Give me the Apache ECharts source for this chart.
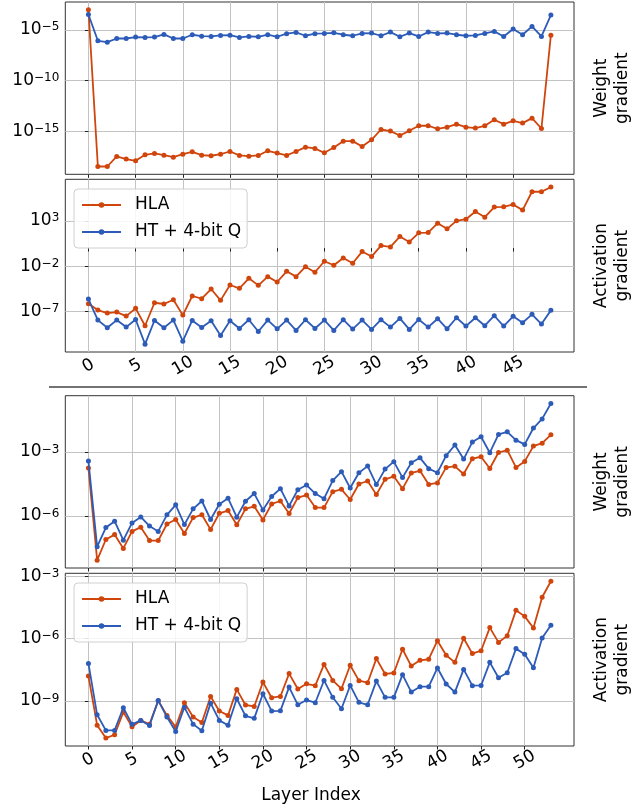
<!DOCTYPE html>
<html><head><meta charset="utf-8">
<script src="https://cdn.jsdelivr.net/npm/echarts@6/dist/echarts.min.js"></script>
<style>html,body{margin:0;padding:0;background:#fff}#c{width:644px;height:807px}</style>
</head><body><div id="c"></div>
<script>
// All gradient values are stored as log10 exponents (value = 10^exponent)
const layersTop = Array.from({length: 50}, (_, i) => i);
const layersBottom = Array.from({length: 54}, (_, i) => i);

// Top block: weight gradient
const weightTopHLA = [-3.03,-18.49,-18.49,-17.5,-17.76,-17.93,-17.34,-17.2,-17.37,-17.57,-17.27,-17.04,-17.37,-17.43,-17.27,-17.01,-17.40,-17.47,-17.40,-16.94,-17.17,-17.40,-17.01,-16.58,-16.71,-17.14,-16.61,-15.99,-15.99,-16.51,-15.86,-14.84,-15.0,-15.43,-14.97,-14.47,-14.47,-14.77,-14.61,-14.31,-14.61,-14.70,-14.47,-13.88,-14.31,-13.98,-14.21,-13.72,-14.74,-5.53];
const weightTopHT = [-3.49,-6.09,-6.22,-5.86,-5.86,-5.72,-5.76,-5.72,-5.46,-5.86,-5.86,-5.49,-5.63,-5.66,-5.56,-5.53,-5.76,-5.66,-5.69,-5.49,-5.69,-5.39,-5.26,-5.59,-5.39,-5.36,-5.30,-5.49,-5.59,-5.36,-5.33,-5.59,-5.23,-5.69,-5.33,-5.66,-5.23,-5.36,-5.33,-5.49,-5.59,-5.56,-5.36,-5.16,-5.66,-4.93,-5.49,-4.67,-5.66,-3.55];
// Top block: activation gradient
const actTopHLA = [-6.12,-6.82,-7.15,-7.04,-7.48,-6.63,-8.54,-6.01,-6.15,-5.68,-7.37,-5.27,-5.57,-4.50,-5.75,-4.06,-4.43,-3.32,-4.10,-3.14,-3.73,-2.55,-3.14,-2.04,-2.66,-1.45,-1.89,-1.08,-1.67,-0.38,-0.93,0.28,0.13,1.27,0.68,1.68,1.71,2.74,2.12,3.0,3.18,4.03,3.40,4.51,4.54,4.80,4.18,6.20,6.20,6.71];
const actTopHT = [-5.60,-7.92,-8.76,-7.92,-8.69,-7.85,-10.57,-7.96,-8.76,-7.92,-10.24,-7.96,-8.74,-7.99,-9.61,-7.99,-8.84,-7.88,-9.17,-7.92,-8.88,-7.92,-9.06,-7.88,-8.84,-7.92,-9.06,-7.88,-8.91,-7.92,-8.95,-7.88,-8.69,-7.74,-8.95,-7.85,-8.69,-7.77,-8.88,-7.66,-8.58,-7.66,-8.54,-7.44,-8.58,-7.51,-8.21,-7.29,-8.36,-6.85];
// Bottom block: weight gradient
const weightBotHLA = [-3.75,-8.08,-7.11,-6.88,-7.53,-6.73,-6.53,-7.16,-7.16,-6.38,-6.17,-6.83,-6.08,-5.95,-6.64,-5.88,-5.75,-6.42,-5.67,-5.55,-6.19,-5.44,-5.30,-5.89,-5.14,-5.02,-5.61,-5.61,-4.86,-4.75,-5.23,-4.50,-4.36,-5.0,-4.28,-4.14,-4.72,-3.98,-3.88,-4.52,-4.45,-3.72,-3.67,-4.03,-3.31,-3.22,-3.77,-3.02,-2.91,-3.72,-3.44,-2.72,-2.58,-2.19];
const weightBotHT = [-3.42,-7.45,-6.55,-6.25,-7.14,-6.33,-6.05,-6.48,-6.73,-5.95,-5.48,-6.41,-5.67,-5.30,-6.17,-5.45,-5.17,-6.06,-5.31,-4.95,-5.72,-5.09,-4.72,-5.53,-4.77,-4.55,-4.95,-5.19,-4.34,-3.92,-4.69,-3.97,-3.66,-4.53,-3.80,-3.45,-4.20,-3.50,-3.27,-3.78,-3.97,-3.17,-2.67,-3.33,-2.53,-2.28,-3.03,-2.17,-2.05,-2.44,-2.64,-1.87,-1.44,-0.72];
// Bottom block: activation gradient
const actBotHLA = [-7.80,-10.16,-10.78,-10.62,-9.53,-10.24,-9.93,-10.12,-8.98,-9.69,-10.25,-9.08,-9.77,-10.03,-8.78,-9.48,-9.69,-8.44,-9.19,-9.26,-8.09,-8.84,-8.78,-7.68,-8.42,-8.17,-8.26,-7.24,-8.01,-8.41,-7.28,-8.02,-8.12,-6.96,-7.70,-7.65,-6.51,-7.32,-7.04,-6.99,-6.10,-6.80,-7.14,-5.98,-6.72,-6.58,-5.47,-6.18,-5.86,-4.64,-4.93,-5.49,-4.01,-3.24];
const actBotHT = [-7.19,-9.66,-10.41,-10.41,-9.32,-10.12,-9.93,-10.17,-8.97,-9.77,-10.46,-9.30,-10.11,-10.43,-9.10,-9.93,-10.16,-8.89,-9.71,-9.83,-8.65,-9.48,-9.47,-8.33,-9.18,-8.95,-9.08,-8.01,-8.82,-9.37,-8.25,-9.06,-9.18,-8.04,-8.82,-8.82,-7.73,-8.57,-8.31,-8.31,-7.41,-8.18,-8.57,-7.48,-8.26,-8.25,-7.14,-7.88,-7.64,-6.48,-6.75,-7.40,-5.97,-5.36];

// Tick labels
const xTicksTop = [0,5,10,15,20,25,30,35,40,45];
const xTicksBottom = [0,5,10,15,20,25,30,35,40,45,50];
const yTicks = [[-15,-10,-5], [-7,-2,3], [-6,-3], [-9,-6,-3]];
const yRanges = [[-19.26,-2.26], [-11.43,7.57], [-8.45,-0.35], [-11.16,-2.86]];
const xRanges = [[-2.45,51.45], [-2.45,51.45], [-2.65,55.65], [-2.65,55.65]];
const seriesNames = ['HLA', 'HT + 4-bit Q'];
const rowLabels = ['Weight\ngradient', 'Activation\ngradient', 'Weight\ngradient', 'Activation\ngradient'];

const FONT = 'DejaVu Sans';
const COLORS = ['#d0450c', '#2c5bb8'];
const gridTops = [2, 179.3, 395.7, 573.3];
const gridHeights = [172.3, 172.7, 172.3, 172.7];

function pow10Label(v) {
  const s = v < 0 ? '\u2212' + (-v) : '' + v;
  return '{b|10}{s|' + s + '}';
}

const grids = gridTops.map((t, i) => ({
  left: 65.3, width: 508.7, top: t, height: gridHeights[i],
  show: true, borderColor: '#333', borderWidth: 1, backgroundColor: 'transparent'
}));

const xAxes = [0,1,2,3].map(i => {
  const ticks = i < 2 ? xTicksTop : xTicksBottom;
  const showLabels = (i === 1 || i === 3);
  return {
    type: 'value', gridIndex: i, min: xRanges[i][0], max: xRanges[i][1], splitNumber: 10,
    axisLine: {show: false},
    axisTick: {show: true, length: 3.5, inside: false, customValues: ticks, lineStyle: {color: '#222', width: 1}},
    splitLine: {show: true, lineStyle: {color: '#c3c3c3', width: 1}},
    axisLabel: {
      show: showLabels, customValues: ticks, rotate: 30, align: 'center', verticalAlign: 'middle',
      margin: 14, fontFamily: FONT, fontSize: 17, color: '#000',
      showMinLabel: true, showMaxLabel: true, hideOverlap: false
    }
  };
});

const yAxes = [0,1,2,3].map(i => ({
  type: 'value', gridIndex: i, min: yRanges[i][0], max: yRanges[i][1], splitNumber: 3,
  axisLine: {show: false},
  axisTick: {show: true, length: 3.5, customValues: yTicks[i], lineStyle: {color: '#222', width: 1}},
  splitLine: {show: true, lineStyle: {color: '#c3c3c3', width: 1}},
  axisLabel: {
    customValues: yTicks[i], margin: 6, color: '#000',
    showMinLabel: true, showMaxLabel: true, hideOverlap: false,
    formatter: pow10Label,
    rich: {
      b: {fontFamily: FONT, fontSize: 17, lineHeight: 17, verticalAlign: 'bottom', color: '#000'},
      s: {fontFamily: FONT, fontSize: 12, lineHeight: 11, verticalAlign: 'top', color: '#000'}
    }
  }
}));

const panelData = [
  [weightTopHLA, weightTopHT, layersTop],
  [actTopHLA, actTopHT, layersTop],
  [weightBotHLA, weightBotHT, layersBottom],
  [actBotHLA, actBotHT, layersBottom]
];

const series = [];
panelData.forEach((p, i) => {
  [0,1].forEach(k => {
    series.push({
      name: seriesNames[k], type: 'line', xAxisIndex: i, yAxisIndex: i,
      data: p[2].map((x, j) => [x, p[k][j]]),
      symbol: 'circle', symbolSize: 5, showSymbol: true,
      lineStyle: {color: COLORS[k], width: 1.8},
      itemStyle: {color: COLORS[k]},
      emphasis: {disabled: true},
      z: 2 + k, animation: false
    });
  });
});

const legends = [189, 583].map(t => ({
  data: seriesNames, orient: 'vertical', left: 74, top: t,
  padding: [6, 6, 6, 7], itemGap: 7, itemWidth: 39, itemHeight: 7,
  backgroundColor: 'rgba(255,255,255,0.85)', borderColor: '#d0d0d0', borderWidth: 1, borderRadius: 4,
  textStyle: {fontFamily: FONT, fontSize: 17, color: '#000', lineHeight: 20, padding: [0, 0, 0, 9]},
  selectedMode: false
}));

const graphics = [
  {type: 'line', shape: {x1: 49, y1: 387, x2: 587, y2: 387}, style: {stroke: '#444', lineWidth: 1.5}},
  {type: 'text', x: 311, y: 796, style: {text: 'Layer Index', fontFamily: FONT, fontSize: 17, fill: '#000', align: 'center', verticalAlign: 'middle'}}
];
rowLabels.forEach((lab, i) => {
  graphics.push({
    type: 'text', x: 612, y: gridTops[i] + gridHeights[i] / 2, rotation: Math.PI / 2,
    style: {text: lab, fontFamily: FONT, fontSize: 17, lineHeight: 21, fill: '#000', align: 'center', verticalAlign: 'middle'}
  });
});

const chart = echarts.init(document.getElementById('c'), null, {renderer: 'canvas'});
chart.setOption({
  animation: false,
  backgroundColor: '#fff',
  grid: grids, xAxis: xAxes, yAxis: yAxes, series: series,
  legend: legends, graphic: graphics
});
</script></body></html>
